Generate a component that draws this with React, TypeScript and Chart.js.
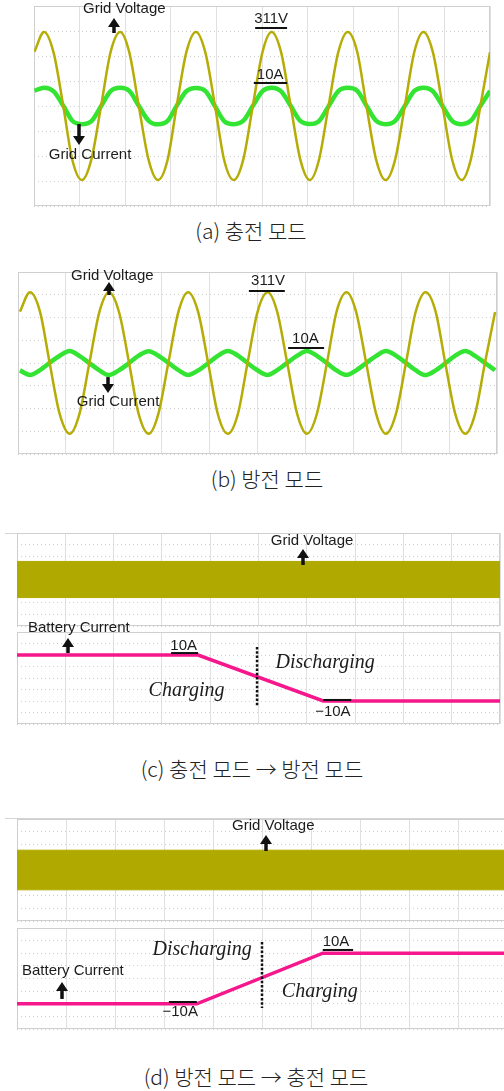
import React, { useEffect, useRef } from "react";
import { Chart, registerables } from "chart.js";

Chart.register(...registerables);

// ---------- data (time in screen divisions, 10 per sweep) ----------

// (a) charging mode: grid voltage [V] and grid current [A]
const timeA = [
  0.01, 0.22, 0.43, 0.64, 0.84, 1.05, 1.26, 1.47, 1.68, 1.89, 2.09, 2.3, 2.51, 2.72, 2.93, 3.13, 3.34,
  3.55, 3.76, 3.97, 4.17, 4.38, 4.59, 4.8, 5.01, 5.21, 5.42, 5.63, 5.84, 6.05, 6.25, 6.46, 6.67, 6.88,
  7.09, 7.29, 7.5, 7.71, 7.92, 8.13, 8.34, 8.54, 8.75, 8.96, 9.17, 9.38, 9.58, 9.79, 10.0,
];
const voltageA = [
  228, 311, 224, 2, -226, -311, -223, -1, 227, 311, 225, -2, -224, -311, -226, 1, 225, 311, 223, 0,
  -227, -311, -224, 2, 226, 311, 225, -1, -225, -311, -226, 0, 224, 311, 226, 1, -223, -311, -225, -2,
  227, 311, 224, 0, -226, -311, -224, 1, 226,
];
const currentA = [
  8.4, 10.1, 8.0, 0.2, -8.1, -10, -8.3, -0.1, 8.2, 10, 8.3, 0, -8.0, -10.1, -8.2, 0.2, 8.1, 9.9, 8.2,
  -0.2, -8.3, -10, -8.1, 0.1, 8.2, 10.1, 8.0, 0, -8.2, -9.9, -8.3, -0.1, 8.1, 10, 8.3, 0.2, -8.1, -10,
  -8.2, 0, 8.3, 10.1, 8.1, -0.1, -8.2, -10, -8.1, 0.1, 8.2,
];

// (b) discharging mode
const timeB = [
  0.04, 0.25, 0.46, 0.66, 0.87, 1.08, 1.28, 1.49, 1.7, 1.9, 2.11, 2.32, 2.52, 2.73, 2.93, 3.14, 3.35,
  3.55, 3.76, 3.97, 4.17, 4.38, 4.59, 4.79, 5.0, 5.21, 5.41, 5.62, 5.83, 6.03, 6.24, 6.45, 6.65, 6.86,
  7.06, 7.27, 7.48, 7.68, 7.89, 8.1, 8.3, 8.51, 8.72, 8.92, 9.13, 9.34, 9.54, 9.75, 9.96,
];
const voltageB = [
  226, 311, 225, 1, -224, -311, -226, 0, 225, 311, 223, -1, -225, -311, -224, 2, 226, 311, 225, 0,
  -223, -311, -225, -2, 224, 311, 226, 1, -225, -311, -223, 0, 225, 311, 224, -1, -226, -311, -224, 1,
  223, 311, 225, 0, -225, -311, -226, 2, 224,
];
const currentB = [
  -6.2, -10, -5.9, 0.2, 6.1, 10, 6.0, -0.1, -6.2, -10.1, -6.0, 0, 6.2, 9.9, 6.1, 0.1, -6.0, -10, -6.2,
  -0.2, 6.0, 10.1, 6.2, 0, -6.1, -10, -6.0, 0.1, 6.1, 10, 6.0, -0.1, -6.2, -9.9, -6.1, 0, 6.0, 10, 6.2,
  0.1, -6.0, -10.1, -6.1, -0.2, 6.2, 10, 6.0, 0, -6.1,
];

// (c), (d) mode transitions: grid voltage envelope [V] and battery current [A]
const bandTime = [0, 10];
const bandUpper = [311, 311];
const bandLower = [-311, -311];
const batteryTimeC = [0, 3.75, 6.34, 10];
const batteryCurrentC = [10, 10, -10, -10];
const batteryTimeD = [0, 3.67, 6.24, 10];
const batteryCurrentD = [-10, -10, 10, 10];

const captions = [
  "(a) 충전 모드",
  "(b) 방전 모드",
  "(c) 충전 모드 → 방전 모드",
  "(d) 방전 모드 → 충전 모드",
];

// ---------- styling ----------
const OLIVE = "#b5ad06";
const BAND = "#b0aa00";
const GREEN = "#33e433";
const PINK = "#f5178b";
const SANS = '15px "Liberation Sans", Arial, sans-serif';
const ITALIC = 'italic 20px "Liberation Serif", "Times New Roman", serif';

type Note =
  | { kind: "text"; x: number; y: number; text: string; font?: string }
  | { kind: "arrow"; x: number; from: number; to: number }
  | { kind: "rule"; x1: number; x2: number; y: number }
  | { kind: "dotted"; x: number; from: number; to: number };

const pts = (xs: number[], ys: number[]) => xs.map((x, i) => ({ x, y: ys[i] }));

// Annotation layer: coordinates in graticule divisions (x 0..10, y -4..4)
function makeNotes(notes: Note[]) {
  return {
    id: "scopeNotes",
    beforeDatasetsDraw(chart: any) {
      const a = chart.chartArea;
      const ctx = chart.ctx;
      ctx.save();
      ctx.strokeStyle = "#cfcfcf";
      ctx.lineWidth = 1;
      ctx.strokeRect(a.left + 0.5, a.top + 0.5, a.right - a.left - 1, a.bottom - a.top - 1);
      ctx.restore();
    },
    afterDatasetsDraw(chart: any) {
      const a = chart.chartArea;
      const ctx = chart.ctx as CanvasRenderingContext2D;
      const px = (x: number) => a.left + (x / 10) * (a.right - a.left);
      const py = (y: number) => a.top + ((4 - y) / 8) * (a.bottom - a.top);
      ctx.save();
      for (const n of notes) {
        if (n.kind === "text") {
          ctx.font = n.font || SANS;
          ctx.fillStyle = "#1c1c1c";
          ctx.textAlign = "center";
          ctx.textBaseline = "middle";
          ctx.fillText(n.text, px(n.x), py(n.y));
        } else if (n.kind === "rule") {
          ctx.strokeStyle = "#111";
          ctx.lineWidth = 2;
          ctx.setLineDash([]);
          ctx.beginPath();
          ctx.moveTo(px(n.x1), py(n.y));
          ctx.lineTo(px(n.x2), py(n.y));
          ctx.stroke();
        } else if (n.kind === "arrow") {
          const x = Math.round(px(n.x));
          const by = py(n.from);
          const ty = py(n.to);
          const dir = ty < by ? -1 : 1;
          const head = 9;
          ctx.strokeStyle = "#111";
          ctx.fillStyle = "#111";
          ctx.lineWidth = 3.5;
          ctx.setLineDash([]);
          ctx.beginPath();
          ctx.moveTo(x, by);
          ctx.lineTo(x, ty - dir * head);
          ctx.stroke();
          ctx.beginPath();
          ctx.moveTo(x, ty);
          ctx.lineTo(x - 6, ty - dir * head);
          ctx.lineTo(x + 6, ty - dir * head);
          ctx.closePath();
          ctx.fill();
        } else if (n.kind === "dotted") {
          ctx.strokeStyle = "#111";
          ctx.lineWidth = 2.5;
          ctx.setLineDash([2.5, 1.8]);
          ctx.beginPath();
          ctx.moveTo(px(n.x), py(n.from));
          ctx.lineTo(px(n.x), py(n.to));
          ctx.stroke();
          ctx.setLineDash([]);
        }
      }
      ctx.restore();
    },
  };
}

interface PanelProps {
  top: number;
  width: number;
  height: number;
  pad: { top: number; right: number; bottom: number; left: number };
  datasets: any[];
  yMax: number;
  y2Max?: number;
  notes: Note[];
}

function ScopePanel({ top, width, height, pad, datasets, yMax, y2Max, notes }: PanelProps) {
  const ref = useRef<HTMLCanvasElement>(null);
  useEffect(() => {
    if (!ref.current) return;
    const scales: any = {
      x: {
        type: "linear",
        min: 0,
        max: 10,
        ticks: { display: false, stepSize: 1 },
        grid: { color: "#e0e0e0", drawTicks: false },
        border: { display: false },
        afterFit: (s: any) => {
          s.height = 0;
        },
      },
      y: {
        type: "linear",
        min: -yMax,
        max: yMax,
        ticks: { display: false, stepSize: yMax / 4 },
        grid: { color: "#cfcfcf", drawTicks: false },
        border: { display: false, dash: [1, 3] },
        afterFit: (s: any) => {
          s.width = 0;
        },
      },
    };
    if (y2Max) {
      scales.y2 = { type: "linear", display: false, min: -y2Max, max: y2Max };
    }
    const chart = new Chart(ref.current, {
      type: "line",
      data: { datasets },
      options: {
        animation: false,
        responsive: false,
        maintainAspectRatio: false,
        events: [],
        layout: { padding: pad },
        plugins: { legend: { display: false }, tooltip: { enabled: false } },
        elements: { point: { radius: 0 } },
        scales,
      },
      plugins: [makeNotes(notes)],
    });
    return () => chart.destroy();
  }, []);
  return (
    <canvas
      ref={ref}
      width={width}
      height={height}
      style={{ position: "absolute", left: 0, top, width, height }}
    />
  );
}

const waveLine = (label: string, data: any, color: string, width: number, axis: string) => ({
  label,
  data,
  borderColor: color,
  borderWidth: width,
  yAxisID: axis,
  cubicInterpolationMode: "monotone",
  fill: false,
  pointRadius: 0,
  borderJoinStyle: "round",
});

const voltageBand = () => [
  {
    label: "Grid Voltage",
    data: pts(bandTime, bandUpper),
    borderColor: BAND,
    borderWidth: 1,
    backgroundColor: BAND,
    fill: "+1",
    pointRadius: 0,
  },
  {
    label: "Grid Voltage (lower)",
    data: pts(bandTime, bandLower),
    borderColor: BAND,
    borderWidth: 1,
    fill: false,
    pointRadius: 0,
  },
];

const batteryLine = (xs: number[], ys: number[]) => [
  {
    label: "Battery Current",
    data: pts(xs, ys),
    borderColor: PINK,
    borderWidth: 3.5,
    fill: false,
    pointRadius: 0,
    tension: 0,
  },
];

function Caption({ cx, cy, text }: { cx: number; cy: number; text: string }) {
  return (
    <div
      style={{
        position: "absolute",
        left: cx - 170,
        width: 340,
        top: cy - 14,
        height: 28,
        lineHeight: "28px",
        textAlign: "center",
        fontFamily: '"Noto Sans CJK KR", "Noto Sans", sans-serif',
        fontSize: 21,
        fontWeight: 300,
        color: "#222",
        whiteSpace: "nowrap",
      }}
    >
      {text}
    </div>
  );
}

export default function App() {
  return (
    <div
      style={{
        position: "absolute",
        left: 0,
        top: 0,
        width: 504,
        height: 1091,
        overflow: "hidden",
        background: "#fff",
      }}
    >
      {/* (a) charging mode */}
      <ScopePanel
        top={0}
        width={504}
        height={215}
        pad={{ top: 6, right: 14, bottom: 9, left: 34 }}
        yMax={420}
        y2Max={55}
        datasets={[
          waveLine("Grid Voltage", pts(timeA, voltageA), OLIVE, 2.5, "y"),
          waveLine("Grid Current", pts(timeA, currentA), GREEN, 4.5, "y2"),
        ]}
        notes={[
          { kind: "text", x: 1.98, y: 3.88, text: "Grid Voltage" },
          { kind: "arrow", x: 1.75, from: 2.92, to: 3.52 },
          { kind: "text", x: 5.2, y: 3.48, text: "311V" },
          { kind: "rule", x1: 4.85, x2: 5.55, y: 3.12 },
          { kind: "text", x: 5.18, y: 1.24, text: "10A" },
          { kind: "rule", x1: 4.82, x2: 5.55, y: 0.92 },
          { kind: "arrow", x: 0.99, from: -0.72, to: -1.56 },
          { kind: "text", x: 1.23, y: -1.96, text: "Grid Current" },
        ]}
      />
      <Caption cx={251} cy={230} text={captions[0]} />

      {/* (b) discharging mode */}
      <ScopePanel
        top={262}
        width={504}
        height={200}
        pad={{ top: 10, right: 7, bottom: 8, left: 18 }}
        yMax={400}
        y2Max={76}
        datasets={[
          waveLine("Grid Voltage", pts(timeB, voltageB), OLIVE, 2.5, "y"),
          waveLine("Grid Current", pts(timeB, currentB), GREEN, 4.5, "y2"),
        ]}
        notes={[
          { kind: "text", x: 1.97, y: 3.82, text: "Grid Voltage" },
          { kind: "arrow", x: 1.9, from: 2.99, to: 3.56 },
          { kind: "text", x: 5.22, y: 3.6, text: "311V" },
          { kind: "rule", x1: 4.82, x2: 5.57, y: 3.16 },
          { kind: "text", x: 6.0, y: 1.05, text: "10A" },
          { kind: "rule", x1: 5.64, x2: 6.39, y: 0.66 },
          { kind: "arrow", x: 1.88, from: -0.62, to: -1.32 },
          { kind: "text", x: 2.09, y: -1.71, text: "Grid Current" },
        ]}
      />
      <Caption cx={267} cy={478} text={captions[1]} />

      {/* (c) charging -> discharging */}
      <div style={{ position: "absolute", left: 5, top: 533, width: 495, height: 1, background: "#d4d4d4" }} />
      <ScopePanel
        top={526}
        width={504}
        height={106}
        pad={{ top: 7, right: 4, bottom: 6, left: 17 }}
        yMax={800}
        datasets={voltageBand()}
        notes={[
          { kind: "text", x: 6.11, y: 3.3, text: "Grid Voltage" },
          { kind: "arrow", x: 5.92, from: 1.25, to: 2.63 },
        ]}
      />
      <ScopePanel
        top={618}
        width={504}
        height={114}
        pad={{ top: 14, right: 4, bottom: 8, left: 17 }}
        yMax={20}
        datasets={batteryLine(batteryTimeC, batteryCurrentC)}
        notes={[
          { kind: "text", x: 1.28, y: 4.35, text: "Battery Current" },
          { kind: "arrow", x: 1.06, from: 2.17, to: 3.48 },
          { kind: "text", x: 3.45, y: 2.78, text: "10A" },
          { kind: "rule", x1: 3.19, x2: 3.75, y: 2.17 },
          { kind: "text", x: 6.38, y: 1.3, text: "Discharging", font: ITALIC },
          { kind: "text", x: 3.51, y: -1.13, text: "Charging", font: ITALIC },
          { kind: "text", x: 6.54, y: -2.96, text: "−10A" },
          { kind: "rule", x1: 6.34, x2: 6.92, y: -1.91 },
          { kind: "dotted", x: 4.97, from: 2.7, to: -2.52 },
        ]}
      />
      <Caption cx={252} cy={768} text={captions[2]} />

      {/* (d) discharging -> charging */}
      <div style={{ position: "absolute", left: 5, top: 818, width: 499, height: 1, background: "#d4d4d4" }} />
      <ScopePanel
        top={812}
        width={520}
        height={115}
        pad={{ top: 7, right: 13, bottom: 6, left: 17 }}
        yMax={800}
        datasets={voltageBand()}
        notes={[
          { kind: "text", x: 5.23, y: 3.45, text: "Grid Voltage" },
          { kind: "arrow", x: 5.08, from: 1.49, to: 2.75 },
        ]}
      />
      <ScopePanel
        top={920}
        width={520}
        height={115}
        pad={{ top: 8, right: 13, bottom: 6, left: 17 }}
        yMax={20}
        datasets={batteryLine(batteryTimeD, batteryCurrentD)}
        notes={[
          { kind: "text", x: 3.78, y: 2.26, text: "Discharging", font: ITALIC },
          { kind: "text", x: 6.51, y: 2.89, text: "10A" },
          { kind: "rule", x1: 6.24, x2: 6.86, y: 2.26 },
          { kind: "text", x: 1.14, y: 0.59, text: "Battery Current" },
          { kind: "arrow", x: 0.92, from: -1.62, to: -0.28 },
          { kind: "text", x: 6.18, y: -1.07, text: "Charging", font: ITALIC },
          { kind: "text", x: 3.33, y: -2.65, text: "−10A" },
          { kind: "rule", x1: 3.1, x2: 3.67, y: -1.86 },
          { kind: "dotted", x: 5.0, from: 2.89, to: -2.34 },
        ]}
      />
      <Caption cx={256} cy={1076} text={captions[3]} />
    </div>
  );
}
